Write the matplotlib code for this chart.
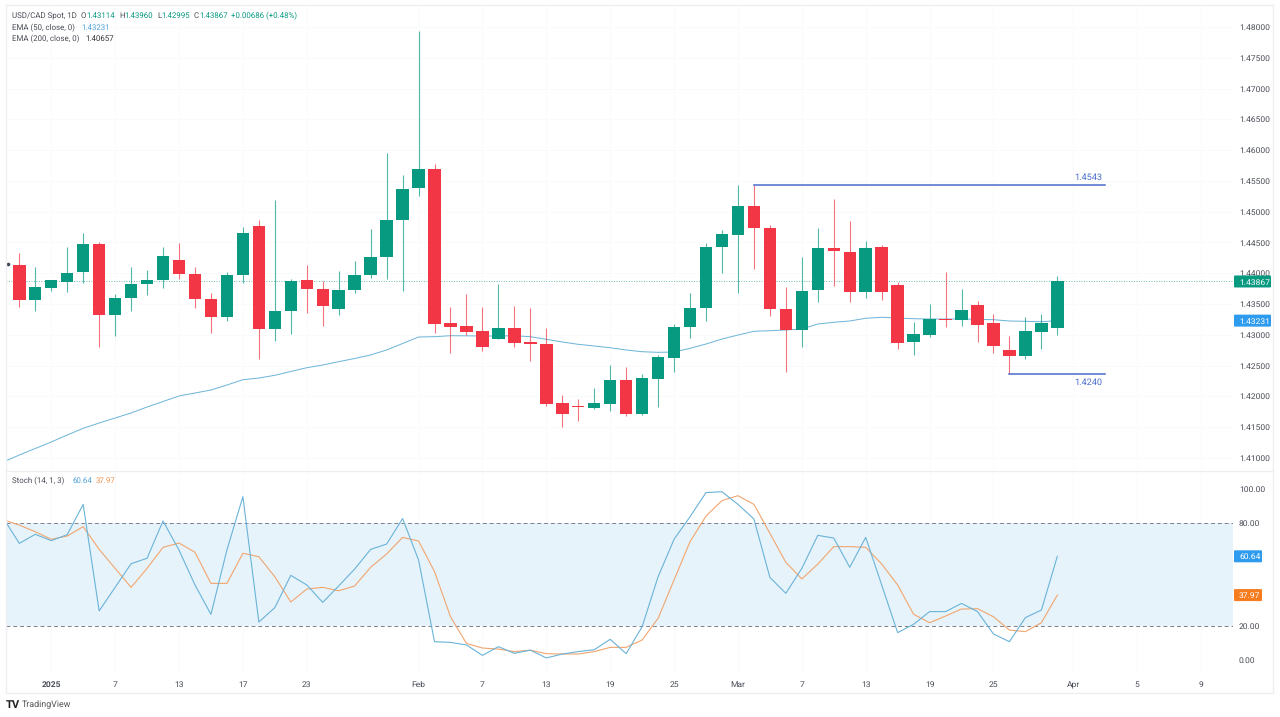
#!/usr/bin/env python
import matplotlib
matplotlib.use("Agg")
import matplotlib.pyplot as plt
from matplotlib.lines import Line2D
from matplotlib.patches import FancyBboxPatch
from matplotlib.transforms import IdentityTransform

plt.rcParams["font.family"] = ["Roboto", "DejaVu Sans"]
plt.rcParams["text.hinting"] = "no_hinting"

W, H = 1280, 717

opens = [1.44130, 1.43561, 1.43766, 1.43853, 1.44016, 1.44480, 1.43327, 1.43594, 1.43821, 1.43886,
         1.44220, 1.43988, 1.43587, 1.43285, 1.43972, 1.44773, 1.43100, 1.43382, 1.43886, 1.43749,
         1.43415, 1.43723, 1.43972, 1.44269, 1.44865, 1.45390, 1.45694, 1.43188, 1.43144, 1.43058,
         1.42937, 1.43111, 1.42889, 1.42851, 1.41888, 1.41839, 1.41817, 1.41877, 1.42262, 1.41714,
         1.42278, 1.42629, 1.43127, 1.43436, 1.44422, 1.44627, 1.45093, 1.44735, 1.43420, 1.43079,
         1.43733, 1.44406, 1.44350, 1.43701, 1.44422, 1.43805, 1.42884, 1.42993, 1.43262, 1.43241,
         1.43485, 1.43197, 1.42754, 1.42651, 1.43046, 1.43114]
highs = [1.44334, 1.44102, 1.43891, 1.44422, 1.44649, 1.44508, 1.43663, 1.44107, 1.44048, 1.44422,
         1.44487, 1.44107, 1.43675, 1.44026, 1.44747, 1.44865, 1.45190, 1.43907, 1.44134, 1.43875,
         1.44042, 1.44204, 1.44724, 1.45949, 1.45596, 1.47940, 1.45775, 1.43457, 1.43663, 1.43457,
         1.43821, 1.43468, 1.43431, 1.43106, 1.42023, 1.41963, 1.42137, 1.42510, 1.42483, 1.42364,
         1.42677, 1.43171, 1.43675, 1.44487, 1.44703, 1.45434, 1.45430, 1.44779, 1.43782, 1.44259,
         1.44730, 1.45206, 1.44854, 1.44524, 1.44464, 1.43863, 1.43209, 1.43496, 1.44016, 1.43740,
         1.43545, 1.43339, 1.42981, 1.43295, 1.43339, 1.43960]
lows = [1.43452, 1.43392, 1.43717, 1.43696, 1.43847, 1.42803, 1.42981, 1.43392, 1.43652, 1.43766,
        1.43912, 1.43431, 1.43025, 1.43225, 1.43847, 1.42613, 1.42900, 1.43014, 1.43350, 1.43144,
        1.43327, 1.43675, 1.43918, 1.43902, 1.43717, 1.45260, 1.43025, 1.42710, 1.42997, 1.42742,
        1.42937, 1.42807, 1.42570, 1.41844, 1.41508, 1.41601, 1.41800, 1.41758, 1.41682, 1.41703,
        1.41833, 1.42397, 1.42949, 1.43230, 1.44000, 1.43684, 1.44074, 1.43311, 1.42401, 1.42807,
        1.43538, 1.43798, 1.43538, 1.43603, 1.43566, 1.42770, 1.42673, 1.42970, 1.43132, 1.43144,
        1.42889, 1.42710, 1.42364, 1.42612, 1.42765, 1.42995]
closes = [1.43561, 1.43772, 1.43891, 1.44009, 1.44471, 1.43327, 1.43598, 1.43826, 1.43891, 1.44285,
          1.43983, 1.43582, 1.43285, 1.43977, 1.44659, 1.43100, 1.43387, 1.43879, 1.43745, 1.43468,
          1.43728, 1.43977, 1.44264, 1.44865, 1.45369, 1.45694, 1.43176, 1.43132, 1.43046, 1.42807,
          1.43111, 1.42872, 1.42846, 1.41877, 1.41714, 1.41823, 1.41888, 1.42262, 1.41714, 1.42294,
          1.42635, 1.43127, 1.43441, 1.44427, 1.44643, 1.45093, 1.44740, 1.43415, 1.43079, 1.43712,
          1.44406, 1.44357, 1.43701, 1.44406, 1.43691, 1.42872, 1.43014, 1.43257, 1.43246, 1.43399,
          1.43165, 1.42814, 1.42656, 1.43058, 1.43188, 1.43867]

# starts one bar before the first candle, the line runs off the left edge
ema50 = [1.40935, 1.41048, 1.41154, 1.41260, 1.41373, 1.41482, 1.41568, 1.41649, 1.41731, 1.41828,
         1.41917, 1.42007, 1.42055, 1.42104, 1.42185, 1.42271, 1.42299, 1.42343, 1.42405, 1.42466,
         1.42510, 1.42564, 1.42616, 1.42673, 1.42754, 1.42859, 1.42965, 1.42970, 1.42986, 1.42984,
         1.42981, 1.42981, 1.42986, 1.42970, 1.42928, 1.42884, 1.42846, 1.42819, 1.42791, 1.42754,
         1.42726, 1.42716, 1.42721, 1.42781, 1.42851, 1.42932, 1.42997, 1.43058, 1.43067, 1.43079,
         1.43095, 1.43176, 1.43204, 1.43225, 1.43269, 1.43285, 1.43274, 1.43262, 1.43257, 1.43257,
         1.43257, 1.43252, 1.43246, 1.43225, 1.43220, 1.43213, 1.43231]

stoch_k = [83.0, 68.2, 73.5, 69.8, 73.3, 91.0, 28.7, 42.5, 56.3, 59.5,
           81.3, 64.3, 43.9, 26.7, 64.3, 95.5, 22.2, 30.6, 49.5, 43.9,
           33.7, 43.3, 53.2, 64.7, 67.8, 82.7, 58.5, 10.7, 10.3, 8.8,
           2.7, 7.8, 3.9, 5.8, 1.2, 3.5, 4.9, 6.0, 12.1, 3.7,
           19.5, 48.7, 70.6, 83.8, 97.9, 98.4, 91.0, 82.5, 48.3, 39.0,
           53.6, 72.9, 71.3, 54.2, 71.7, 43.9, 16.0, 20.9, 28.3, 28.3,
           33.1, 28.3, 15.2, 10.7, 24.8, 29.2, 60.64]
stoch_d = [82.0, 78.9, 75.0, 70.6, 72.5, 78.0, 64.7, 53.6, 42.5, 53.6,
           65.9, 68.4, 63.0, 44.8, 44.8, 62.4, 60.4, 48.7, 33.9, 41.5,
           42.5, 40.5, 43.3, 54.2, 62.0, 71.7, 69.6, 51.7, 25.3, 9.7,
           7.0, 6.4, 4.9, 5.7, 3.7, 3.5, 3.5, 4.9, 7.4, 7.4,
           11.7, 24.4, 46.8, 69.2, 84.2, 93.2, 96.1, 91.0, 74.1, 57.1,
           47.4, 56.1, 66.3, 66.3, 65.9, 56.1, 43.9, 26.7, 21.8, 25.7,
           29.8, 30.0, 25.3, 17.5, 16.6, 21.8, 37.97]

tick_idx = [2, 6, 10, 14, 18, 25, 29, 33, 37, 41, 45, 49, 53, 57, 61, 66, 70, 74]
tick_labels = ["2025", "7", "13", "17", "23", "Feb", "7", "13", "19", "25", "Mar", "7", "13", "19", "25", "Apr", "5", "9"]
price_ticks = [1.41, 1.415, 1.42, 1.425, 1.43, 1.435, 1.44, 1.445, 1.45, 1.455, 1.46, 1.465, 1.47, 1.475, 1.48]
stoch_ticks = [0, 20, 40, 60, 80, 100]

swing_high = 1.4543
swing_low = 1.42364
swing_high_label = "1.4543"
swing_low_label = "1.4240"

GREEN = "#089981"
RED = "#f23645"
TXT = "#4a4d57"
BLUE_LINE = "#6ab3d8"
ORANGE_LINE = "#f2a56e"
GRID = "#f9fafb"
BORDER = "#eceef2"
LEVEL = "#4a6ccb"
FS = 6.1
LEGEND_FS = 5.7


def px_axes(left, top, right, bottom):
    return fig.add_axes([left / W, 1 - bottom / H, (right - left) / W, (bottom - top) / H])


def label(x, y, s, color=TXT, size=LEGEND_FS, **kw):
    fig.text(x / W, 1 - y / H, s, color=color, fontsize=size, va="center", **kw)


def badge(ax, val, s, color, width):
    # value tag on the right axis
    y = ax.transData.transform((0, val))[1]
    x0 = 1234
    box = FancyBboxPatch((x0 + 1, y - 5), width - 2, 10, boxstyle="round,pad=1", fc=color, ec="none",
                         transform=IdentityTransform(), zorder=10)
    fig.add_artist(box)
    fig.text((x0 + 5) / W, y / H, s, color="white", fontsize=FS, va="center_baseline", zorder=11)


fig = plt.figure(figsize=(W / 100, H / 100), dpi=100, facecolor="white")

ax = px_axes(6, 5, 1233, 470)
ax2 = px_axes(6, 471, 1233, 672)
x_lim = ((6 - 19.3) / 15.97, (1233 - 19.3) / 15.97)

idx = list(range(len(closes)))
colors = [GREEN if c >= o else RED for o, c in zip(opens, closes)]

ax.plot([i - 1 for i in range(len(ema50))], ema50, color=BLUE_LINE, lw=0.7, zorder=2)
ax.axhline(closes[-1], color=GREEN, lw=0.6, ls=(0, (1, 2)), alpha=0.8, zorder=1)
ax.vlines(idx, lows, highs, colors=colors, lw=0.8, alpha=0.7, zorder=3)
ax.bar(idx, [max(abs(c - o), 0.00006) for o, c in zip(opens, closes)],
       bottom=[min(o, c) for o, c in zip(opens, closes)], width=0.78, color=colors, zorder=4)

# swing levels
ax.plot([46, 68], [swing_high, swing_high], color=LEVEL, lw=1.1, zorder=5)
ax.plot([62, 68], [swing_low, swing_low], color=LEVEL, lw=1.1, zorder=5)
ax.annotate(swing_high_label, (68, swing_high), xytext=(-2, 2.5), textcoords="offset points",
            ha="right", va="bottom", color=LEVEL, fontsize=6.6)
ax.annotate(swing_low_label, (68, swing_low), xytext=(-2, -3), textcoords="offset points",
            ha="right", va="top", color=LEVEL, fontsize=6.6)
ax.plot([-0.7], [1.4415], marker="o", ms=1.6, color="#3a4a5a", clip_on=False)

ax.set_xlim(*x_lim)
ax.set_ylim(1.48 - 443 * 0.00016242, 1.48 + 22 * 0.00016242)
ax.set_yticks(price_ticks)
ax.set_yticklabels([f"{p:.5f}" for p in price_ticks])
ax.yaxis.tick_right()
ax.set_xticks(tick_idx)
ax.tick_params(axis="x", length=0, labelbottom=False)
ax.tick_params(axis="y", length=0, pad=4.3, labelsize=FS, labelcolor=TXT)

# band sits over the faint grid, the grid only shows outside it
ax2.axhspan(20, 80, color="#e6f3fb", lw=0, zorder=0.8)
for lvl in (20, 80):
    ax2.axhline(lvl, color="#7d808a", lw=0.7, ls=(0, (4, 3)), zorder=1)
ax2.plot([i - 1 for i in range(len(stoch_d))], stoch_d, color=ORANGE_LINE, lw=0.8, zorder=2)
ax2.plot([i - 1 for i in range(len(stoch_k))], stoch_k, color=BLUE_LINE, lw=0.8, zorder=3)

ax2.set_xlim(*x_lim)
ax2.set_ylim((660 - 672) / 1.71, (660 - 471) / 1.71)
ax2.set_yticks(stoch_ticks)
ax2.set_yticklabels([f"{v:.2f}" for v in stoch_ticks])
ax2.yaxis.tick_right()
ax2.set_xticks(tick_idx)
ax2.set_xticklabels(tick_labels)
ax2.get_xticklabels()[0].set_fontweight("bold")
ax2.tick_params(axis="x", length=0, pad=6.5, labelsize=FS, labelcolor=TXT)
ax2.tick_params(axis="y", length=0, pad=4.3, labelsize=FS, labelcolor=TXT)

for a in (ax, ax2):
    a.grid(True, color=GRID, lw=0.7)
    a.set_axisbelow(True)
    a.patch.set_alpha(0)
    for s in a.spines.values():
        s.set_visible(False)
ax2.yaxis.grid(False)

# pane borders
for xs, ys in [([6, 1273], [470.5, 470.5]), ([6, 1273], [693, 693]), ([6, 1273], [5, 5]),
               ([6, 6], [5, 693]), ([1273, 1273], [5, 693])]:
    fig.add_artist(Line2D([x / W for x in xs], [1 - y / H for y in ys], color=BORDER, lw=0.9))

fig.canvas.draw()
badge(ax, closes[-1], f"{closes[-1]:.5f}", GREEN, 37)
badge(ax, ema50[-1], f"{ema50[-1]:.5f}", "#2e9bee", 37)
badge(ax2, stoch_k[-1], f"{stoch_k[-1]:.2f}", "#2e9bee", 28)
badge(ax2, stoch_d[-1], f"{stoch_d[-1]:.2f}", "#f57c1f", 28)

# legend rows
label(12, 16, "USD/CAD Spot, 1D")
for x, s, col in [(81, "O", TXT), (86, "1.43114", GREEN), (119, "H", TXT), (124, "1.43960", GREEN),
                  (157, "L", TXT), (161, "1.42995", GREEN), (194, "C", TXT), (199, "1.43867", GREEN),
                  (231, "+0.00686 (+0.48%)", GREEN)]:
    label(x, 16, s, color=col)
label(12, 27.5, "EMA (50, close, 0)")
label(81, 27.5, "1.43231", color="#4fa3d8")
label(12, 39, "EMA (200, close, 0)")
label(85, 39, "1.40657", color="#333333")
label(12, 481, "Stoch (14, 1, 3)")
label(72, 481, "60.64", color="#4fa3d8")
label(96, 481, "37.97", color="#f0924a")

label(6, 705, "TV", color="#222222", size=8, fontweight="bold")
label(22, 705, "TradingView", color="#555555", size=6.4)

fig.savefig("out.png", dpi=100)
